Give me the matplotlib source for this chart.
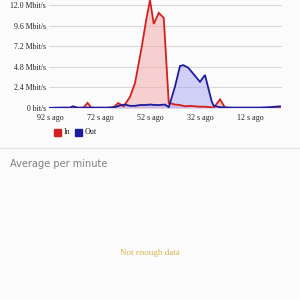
import matplotlib
matplotlib.use("Agg")
import matplotlib.pyplot as plt
from matplotlib.patches import Rectangle

# ---- data (seconds ago, Mbit/s) ----
t_in = [92, 90, 88, 86, 84, 82, 80, 78.5, 77, 75.5, 74, 72, 70, 68, 66.5, 64.7, 62.5,
        60, 58, 55.5, 53.5, 52, 50.5, 48.5, 46.5, 44.5, 42, 40, 38, 36, 34, 32, 30,
        28, 26.5, 24, 22, 20, 18, 16, 14, 12, 10, 8, 6, 4, 2, 0]
v_in = [0.0, 0.02, 0.0, 0.03, 0.0, 0.02, 0.0, 0.05, 0.6, 0.05, 0.0, 0.02, 0.0, 0.05,
        0.1, 0.58, 0.2, 1.3, 2.9, 6.8, 10.3, 12.6, 9.8, 11.1, 10.5, 0.6, 0.4, 0.35,
        0.2, 0.25, 0.2, 0.15, 0.15, 0.1, 0.05, 1.0, 0.05, 0.02, 0.0, 0.0, 0.0, 0.0,
        0.0, 0.0, 0.0, 0.0, 0.0, 0.0]

t_out = [92, 88, 84, 82.8, 81, 76, 72, 68, 66, 64, 62, 60, 58, 56, 54, 52, 50, 48,
         46, 44.5, 42, 40, 38.7, 36.7, 34.7, 32, 30, 27.3, 26.5, 24, 20, 16, 12, 8,
         4, 2, 0]
v_out = [0.02, 0.05, 0.05, 0.2, 0.05, 0.05, 0.05, 0.05, 0.1, 0.3, 0.4, 0.25, 0.25,
         0.35, 0.35, 0.4, 0.35, 0.35, 0.4, 0.1, 2.5, 4.9, 5.0, 4.7, 4.0, 3.05, 3.85,
         0.75, 0.25, 0.1, 0.05, 0.05, 0.05, 0.05, 0.1, 0.15, 0.2]

y_ticks = [0, 2.4, 4.8, 7.2, 9.6, 12.0]
y_labels = ["0 bit/s", "2.4 Mbit/s", "4.8 Mbit/s", "7.2 Mbit/s", "9.6 Mbit/s", "12.0 Mbit/s"]
x_ticks = [92, 72, 52, 32, 12]
x_labels = ["92 s ago", "72 s ago", "52 s ago", "32 s ago", "12 s ago"]
legend_names = ["In", "Out"]

RED = "#d42020"
BLUE = "#1c1c9c"
SERIF = ["Liberation Serif", "DejaVu Serif"]

fig = plt.figure(figsize=(3, 3), dpi=100, facecolor="#fbfbfb")
ax = fig.add_axes([49 / 300, 1 - 108 / 300, 233 / 300, 108 / 300])
ax.set_facecolor("#fbfbfb")

ax.fill_between(t_in, v_in, 0, color="#f3a6a6", alpha=0.5, lw=0)
ax.fill_between(t_out, v_out, 0, color="#a6a6f3", alpha=0.5, lw=0)
ax.plot(t_in, v_in, color=RED, lw=1.3, solid_joinstyle="miter")
ax.plot(t_out, v_out, color=BLUE, lw=1.3, solid_joinstyle="miter")

ax.set_xlim(92.4, -0.8)
ax.set_ylim(0, 12.6)
ax.set_yticks(y_ticks)
ax.set_yticklabels(y_labels, family=SERIF, fontsize=5.6, color="#222")
ax.set_xticks(x_ticks)
ax.set_xticklabels(x_labels, family=SERIF, fontsize=5.8, color="#222")
ax.tick_params(axis="y", length=0, pad=2)
ax.tick_params(axis="x", length=0, pad=4.5)
ax.grid(axis="y", color="#d8d8d8", lw=0.8)
ax.set_axisbelow(True)
for s in ax.spines.values():
    s.set_visible(False)

# legend
for i, (name, col) in enumerate(zip(legend_names, [RED, BLUE])):
    x0 = 54 + i * 21
    fig.patches.append(Rectangle((x0 / 300, 1 - 135.5 / 300), 6.5 / 300, 6.5 / 300,
                                 transform=fig.transFigure, color=col))
    fig.text((x0 + 9.5) / 300, 1 - 132.5 / 300, name, family=SERIF, fontsize=5.8,
             color="#222", va="center", ha="left")

# separator
fig.add_artist(plt.Line2D([0, 1], [1 - 148 / 300, 1 - 148 / 300],
                          transform=fig.transFigure, color="#e2e2e2", lw=0.8))

fig.text(10 / 300, 1 - 164 / 300, "Average per minute", family=["DejaVu Sans"],
         fontsize=7.8, color="#808080", va="center", ha="left", stretch="condensed")
fig.text(150 / 300, 1 - 253 / 300, "Not enough data", family=SERIF, fontsize=6.5,
         color="#d9b54a", va="center", ha="center")

fig.savefig("out.png", dpi=100, facecolor=fig.get_facecolor())
